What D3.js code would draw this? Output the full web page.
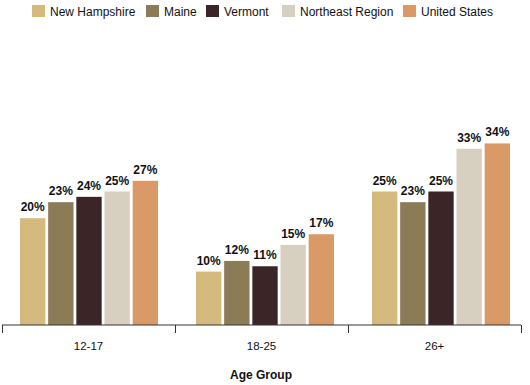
<!DOCTYPE html>
<html>
<head>
<meta charset="utf-8">
<script src="https://cdn.jsdelivr.net/npm/d3@7"></script>
<style>
  body { margin: 0; background: #fff; }
  text { font-family: Arial, "Liberation Sans", sans-serif; }
</style>
</head>
<body>
<div id="chart"></div>
<script>
const width = 530;
const height = 385;

// données
const ageGroups = ["12-17", "18-25", "26+"];
const regions = ["New Hampshire", "Maine", "Vermont", "Northeast Region", "United States"];
const newHampshire = [20, 10, 25];
const maine = [23, 12, 23];
const vermont = [24, 11, 25];
const northeast = [25, 15, 33];
const unitedStates = [27, 17, 34];
const colorList = ["#d5ba80", "#8b7b56", "#3c2527", "#d7d0c1", "#da9966"];

const seriesValues = [newHampshire, maine, vermont, northeast, unitedStates];
const rows = [];
ageGroups.forEach((g, i) => {
  regions.forEach((r, j) => rows.push({ group: g, region: r, value: seriesValues[j][i] }));
});

const svg = d3.select("#chart").append("svg")
  .attr("width", width)
  .attr("height", height);

const baseY = 325;

// échelle de l'axe (graduations)
const x0 = d3.scaleBand()
  .domain(ageGroups)
  .range([2, 521])
  .padding(0);

// échelle des groupes de barres (un peu plus espacée que l'axe)
const xg = d3.scaleBand()
  .domain(ageGroups)
  .range([1, 529])
  .padding(0);

const x1 = d3.scaleBand()
  .domain(regions)
  .range([19, 19 + 138])
  .paddingInner(0.1)
  .paddingOuter(0);

const y = d3.scaleLinear()
  .domain([0, 40])
  .range([baseY, baseY - 40 * 5.34]);

const color = d3.scaleOrdinal().domain(regions).range(colorList);

// barres
const bars = svg.append("g");
bars.selectAll("rect")
  .data(rows)
  .join("rect")
  .attr("x", d => xg(d.group) + x1(d.region))
  .attr("y", d => y(d.value))
  .attr("width", x1.bandwidth())
  .attr("height", d => y(0) - y(d.value))
  .attr("fill", d => color(d.region));

// étiquettes
bars.selectAll("text")
  .data(rows)
  .join("text")
  .attr("x", d => xg(d.group) + x1(d.region) + x1.bandwidth() / 2)
  .attr("y", d => y(d.value) - 7)
  .attr("text-anchor", "middle")
  .attr("font-size", "12px")
  .attr("font-weight", "bold")
  .attr("fill", "#111")
  .text(d => d.value + "%");

// axe x
const axis = svg.append("g").attr("transform", `translate(0,${baseY})`);
axis.append("line")
  .attr("x1", 2).attr("x2", 521)
  .attr("stroke", "#333");
const tickPos = ageGroups.map(g => x0(g)).concat([x0.range()[1]]);
axis.selectAll(".tick")
  .data(tickPos)
  .join("line")
  .attr("class", "tick")
  .attr("x1", d => d + 0.5).attr("x2", d => d + 0.5)
  .attr("y1", 0).attr("y2", 8)
  .attr("stroke", "#333");
axis.selectAll(".lbl")
  .data(ageGroups)
  .join("text")
  .attr("class", "lbl")
  .attr("x", d => x0(d) + x0.bandwidth() / 2)
  .attr("y", 25)
  .attr("text-anchor", "middle")
  .attr("font-size", "11.5px")
  .attr("fill", "#111")
  .text(d => d);

svg.append("text")
  .attr("x", 261)
  .attr("y", 379)
  .attr("text-anchor", "middle")
  .attr("font-size", "12px")
  .attr("font-weight", "bold")
  .attr("fill", "#111")
  .text("Age Group");

// légende
const legendX = [32, 146, 206, 282, 403];
const legend = svg.append("g");
const item = legend.selectAll("g")
  .data(regions)
  .join("g")
  .attr("transform", (d, i) => `translate(${legendX[i]},5)`);
item.append("rect")
  .attr("width", 13).attr("height", 12)
  .attr("fill", d => color(d));
item.append("text")
  .attr("x", 18)
  .attr("y", 11)
  .attr("font-size", "12px")
  .attr("fill", "#111")
  .text(d => d);
</script>
</body>
</html>
